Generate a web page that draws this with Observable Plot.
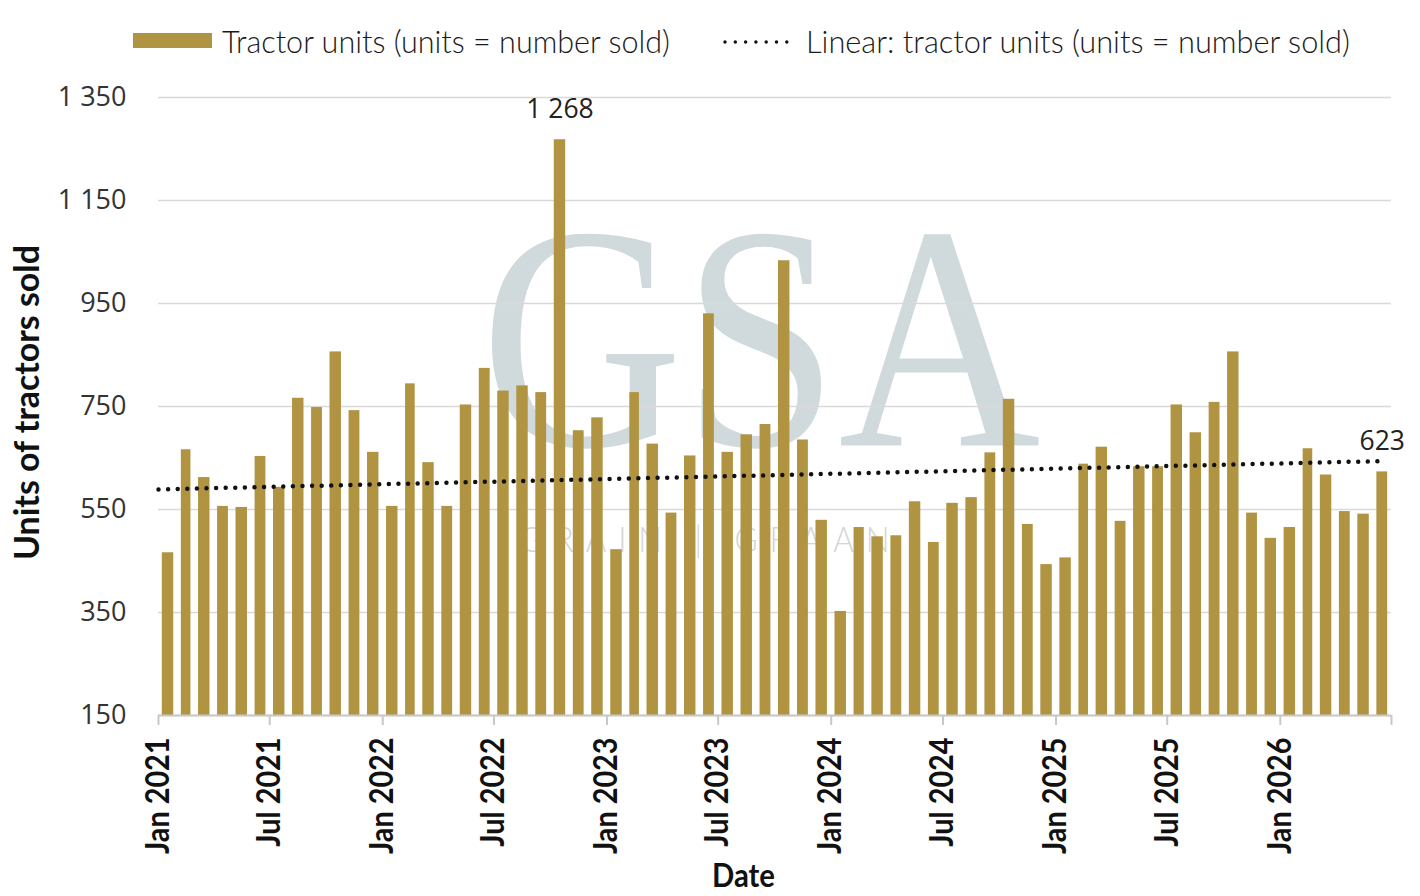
<!DOCTYPE html>
<html>
<head>
<meta charset="utf-8">
<script src="https://cdn.jsdelivr.net/npm/d3@7"></script>
<script src="https://cdn.jsdelivr.net/npm/@observablehq/plot@0.6"></script>
<style>
  html, body { margin: 0; padding: 0; background: #ffffff; }
  svg { display: block; }
</style>
</head>
<body>
<div id="chart"></div>
<script>
// ---------- data ----------
const firstMonth = "2021-01-01";
const units = [
  466, 666, 612, 556, 554, 653, 593, 766, 748, 856, 742, 661,   // 2021
  556, 794, 641, 556, 753, 824, 780, 790, 777, 1268, 703, 728,  // 2022
  472, 777, 677, 543, 654, 930, 661, 695, 715, 1033, 685, 529,  // 2023
  352, 515, 497, 499, 565, 486, 562, 573, 660, 764, 521, 443,   // 2024
  456, 638, 671, 527, 633, 633, 753, 699, 758, 856, 543, 494,   // 2025
  515, 668, 617, 546, 541, 623                                   // 2026
];
const labeledMonths = ["2022-10-01", "2026-06-01"];
const yTicks = [150, 350, 550, 750, 950, 1150, 1350];
const xTickDates = ["2021-01-01","2021-07-01","2022-01-01","2022-07-01","2023-01-01","2023-07-01",
                    "2024-01-01","2024-07-01","2025-01-01","2025-07-01","2026-01-01","2026-07-01"];
const xTickLabels = ["Jan 2021","Jul 2021","Jan 2022","Jul 2022","Jan 2023","Jul 2023",
                     "Jan 2024","Jul 2024","Jan 2025","Jul 2025","Jan 2026"];
const trendDates = ["2021-01-01", "2026-06-16"];
const trendValues = [589, 644];
const seriesName = "Tractor units (units = number sold)";
const trendName = "Linear: tractor units (units = number sold)";
const yTitle = "Units of tractors sold";
const xTitle = "Date";
const watermarkBig = "GSA";
const watermarkSmall = "GRAIN | GRAAN";

// ---------- styles ----------
const gold = "#b09442";
const sans = "'Open Sans', 'Liberation Sans', sans-serif";
const geo = "Lato, 'DejaVu Sans', sans-serif";

// ---------- derived tables ----------
const start = new Date(firstMonth);
const bars = units.map((v, i) => {
  const s = d3.utcMonth.offset(start, i);
  const e = d3.utcMonth.offset(start, i + 1);
  return {start: s, end: e, mid: new Date((+s + +e) / 2), value: v};
});
const labeled = bars.filter(d => labeledMonths.includes(d.start.toISOString().slice(0, 10)));
const tickDates = xTickDates.map(d => new Date(d));
const tickLabelData = xTickLabels.map((t, i) => ({date: tickDates[i], label: t}));
const trend = trendDates.map((d, i) => ({date: new Date(d), value: trendValues[i]}));
const fmt = d3.formatLocale({decimal: ".", thousands: " ", grouping: [3], currency: ["", ""]}).format(",d");

// ---------- legend (above the plot) ----------
const LEG_H = 80;
const legend = d3.create("svg").attr("width", 1420).attr("height", LEG_H)
  .attr("font-family", geo).attr("font-weight", 300).attr("font-size", 32).attr("fill", "#1a1a1a");
legend.append("rect").attr("x", 133).attr("y", 33).attr("width", 79).attr("height", 15).attr("fill", gold);
legend.append("text").attr("x", 222).attr("y", 53).text(seriesName)
  .attr("textLength", 448).attr("lengthAdjust", "spacingAndGlyphs");
legend.append("line").attr("x1", 725).attr("x2", 797).attr("y1", 42).attr("y2", 42)
  .attr("stroke", "#111").attr("stroke-width", 3.5).attr("stroke-linecap", "round")
  .attr("stroke-dasharray", "0 10.3");
legend.append("text").attr("x", 806).attr("y", 53).text(trendName)
  .attr("textLength", 544).attr("lengthAdjust", "spacingAndGlyphs");
document.getElementById("chart").appendChild(legend.node());

// ---------- plot ----------
const chart = Plot.plot({
  width: 1420,
  height: 896 - LEG_H,
  marginTop: 17,
  marginBottom: 181,
  marginLeft: 158,
  marginRight: 29,
  style: {fontFamily: sans, fontSize: "26px", color: "#333", background: "#ffffff", overflow: "visible"},
  x: {type: "utc", domain: [start, d3.utcMonth.offset(start, units.length)], label: null},
  y: {domain: [yTicks[0], yTicks[yTicks.length - 1]], label: null},
  marks: [
    // watermark logo letters
    Plot.text([watermarkBig], {frameAnchor: "middle", dx: -14.5, dy: -63.4, text: d => d,
      fontFamily: "'Liberation Serif', 'DejaVu Serif', serif", fontSize: 320, fill: "#d0dadd", lineAnchor: "middle"}),
    // grid
    Plot.gridY(yTicks, {stroke: "#d9d9d9", strokeOpacity: 1, strokeWidth: 1.6}),
    // bars
    Plot.rectY(bars, {x1: "start", x2: "end", y1: yTicks[0], y2: "value", fill: gold, insetLeft: 3.8, insetRight: 3.8}),
    // x axis line + ticks
    Plot.ruleY([yTicks[0]], {stroke: "#c8c8c8", strokeWidth: 2}),
    Plot.axisX({ticks: tickDates, tickSize: 10, tickFormat: () => "", stroke: "#c8c8c8", strokeWidth: 2, label: null}),
    Plot.text(tickLabelData, {x: "date", text: "label", frameAnchor: "bottom", dy: 22, rotate: -90,
      textAnchor: "end", lineAnchor: "middle", fontFamily: geo, fontWeight: 700, fontSize: 32, fill: "#111"}),
    // y axis labels
    Plot.axisY({ticks: yTicks, tickSize: 0, tickPadding: 32, tickFormat: fmt, fontSize: 27,
      fontFamily: sans, fill: "#333", label: null}),
    // trend line
    Plot.line(trend, {x: "date", y: "value", stroke: "#111", strokeWidth: 4.5, strokeDasharray: "0 9.6", strokeLinecap: "round"}),
    // data labels
    Plot.text(labeled, {x: "mid", y: "value", text: d => fmt(d.value), dy: -30, lineAnchor: "middle",
      fontFamily: sans, fontSize: 26.5, fill: "#222"}),
    // axis titles
    Plot.text([yTitle], {frameAnchor: "left", dx: -131, dy: -4, rotate: -90, text: d => d,
      textAnchor: "middle", lineAnchor: "middle",
      fontFamily: geo, fontWeight: 700, fontSize: 35, fill: "#111"}),
    Plot.text([xTitle], {frameAnchor: "bottom", dx: -31.5, dy: 161, text: d => d,
      textAnchor: "middle", lineAnchor: "middle",
      fontFamily: geo, fontWeight: 700, fontSize: 32, fill: "#111"})
  ]
});
document.getElementById("chart").appendChild(chart);

// ---------- condense glyph runs (around each text's anchor) to match the reference typeface ----------
function squeeze(el, target) {
  const L = el.getComputedTextLength();
  const sx = target / L;
  el.setAttribute("transform", (el.getAttribute("transform") || "") + ` scale(${sx},1)`);
  return sx;
}
function finish() {
  const texts = Array.from(chart.querySelectorAll("text"));
  texts.forEach(el => {
    const t = el.textContent;
    if (t === yTitle) squeeze(el, 315);
    else if (t === xTitle) squeeze(el, 63);
    else if (xTickLabels.includes(t)) squeeze(el, el.getComputedTextLength() * 0.9);
    else if (t === watermarkBig) {
      const sx = squeeze(el, 560);
      // the small wordmark line of the logo, set beneath the letters
      const ts = document.createElementNS("http://www.w3.org/2000/svg", "tspan");
      ts.textContent = watermarkSmall;
      ts.setAttribute("x", (710 - 760) / sx);
      ts.setAttribute("y", 209.4);
      ts.setAttribute("font-size", 36);
      ts.setAttribute("font-family", geo);
      ts.setAttribute("font-weight", 300);
      ts.setAttribute("fill", "#d4d4d4");
      el.appendChild(ts);
      const L0 = ts.getComputedTextLength();
      const n = watermarkSmall.length;
      ts.setAttribute("letter-spacing", ((370 / sx) - L0) / (n - 1));
    }
  });
}
if (document.fonts && document.fonts.ready) document.fonts.ready.then(finish); else finish();
</script>
</body>
</html>
